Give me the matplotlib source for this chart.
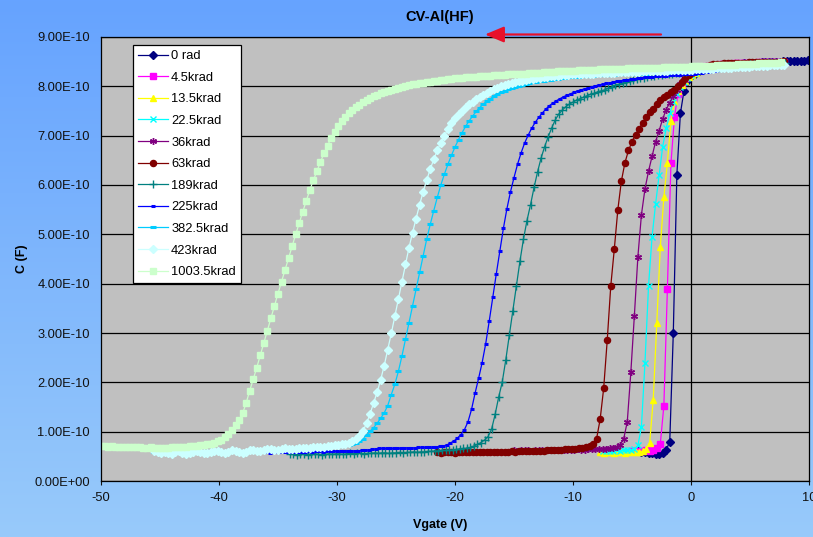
import numpy as np
import matplotlib
matplotlib.use('Agg')
import matplotlib.pyplot as plt
from matplotlib.ticker import FuncFormatter, MultipleLocator
from matplotlib.patches import ArrowStyle

plt.rc('font', family=['Liberation Sans', 'DejaVu Sans'], size=9.3)
plt.rc('axes', unicode_minus=False)

# gate voltage sweep: each run starts at its own voltage, 0.3 V steps
v_step = 0.3
# capacitance readings in units of 1e-10 F
c_scale = 1e-10

labels = ['0 rad', '4.5krad', '13.5krad', '22.5krad', '36krad', '63krad',
          '189krad', '225krad', '382.5krad', '423krad', '1003.5krad']
v_start = [-4.5, -5.0, -7.7, -7.5, -15.0, -21.5, -34.0, -36.0, -45.5, -45.5, -50.0]

c_0 = [0.60, 0.59, 0.58, 0.57, 0.56, 0.55, 0.55, 0.57, 0.63, 0.80,
       3.00, 6.20, 7.45, 7.90, 8.10, 8.20, 8.26, 8.30, 8.33, 8.36,
       8.38, 8.40, 8.41, 8.42, 8.43, 8.44, 8.45, 8.45, 8.46, 8.46,
       8.47, 8.47, 8.48, 8.48, 8.48, 8.49, 8.49, 8.49, 8.50, 8.50,
       8.50, 8.51, 8.51, 8.51, 8.52, 8.52, 8.52, 8.52, 8.53]
c_4 = [0.60, 0.61, 0.60, 0.61, 0.62, 0.61, 0.63, 0.66, 0.76, 1.52,
       3.90, 6.44, 7.38, 7.85, 8.05, 8.16, 8.24, 8.30, 8.34, 8.37,
       8.39, 8.41, 8.42, 8.43, 8.44, 8.45, 8.45, 8.46, 8.46, 8.47,
       8.47, 8.47, 8.48, 8.48, 8.48, 8.48, 8.49, 8.49, 8.49, 8.49, 8.50, 8.50, 8.50, 8.50]
c_13 = [0.58, 0.57, 0.58, 0.58, 0.57, 0.58, 0.58, 0.57, 0.58, 0.58,
        0.58, 0.59, 0.60, 0.65, 0.78, 1.65, 3.20, 4.75, 5.75, 6.45,
        7.30, 7.70, 7.90, 8.02, 8.11, 8.18, 8.23, 8.28, 8.32, 8.35,
        8.38, 8.40, 8.42, 8.43, 8.44, 8.45, 8.46, 8.46, 8.47, 8.47,
        8.47, 8.48, 8.48, 8.48, 8.49, 8.49, 8.49, 8.50, 8.50, 8.50, 8.50, 8.51, 8.51]
c_22 = [0.60, 0.61, 0.60, 0.61, 0.62, 0.61, 0.62, 0.62, 0.63, 0.65,
        0.72, 1.10, 2.40, 3.95, 4.95, 5.62, 6.20, 6.78, 7.15, 7.45,
        7.68, 7.85, 7.98, 8.08, 8.16, 8.22, 8.27, 8.31, 8.34, 8.37,
        8.39, 8.41, 8.42, 8.43, 8.44, 8.45, 8.45, 8.46, 8.46, 8.47,
        8.47, 8.47, 8.48, 8.48, 8.48, 8.48, 8.49, 8.49, 8.49, 8.49, 8.50, 8.50]
c_36 = [0.62, 0.61, 0.62, 0.63, 0.62, 0.61, 0.62, 0.62, 0.63, 0.62,
        0.62, 0.63, 0.62, 0.63, 0.63, 0.62, 0.63, 0.63, 0.64, 0.63,
        0.63, 0.64, 0.64, 0.64, 0.65, 0.65, 0.65, 0.66, 0.67, 0.69,
        0.73, 0.86, 1.20, 2.20, 3.35, 4.55, 5.40, 5.92, 6.28, 6.58,
        6.88, 7.10, 7.34, 7.53, 7.67, 7.80, 7.93, 8.04, 8.13, 8.20,
        8.26, 8.31, 8.35, 8.38, 8.40, 8.42, 8.43, 8.44, 8.45, 8.45,
        8.46, 8.46, 8.47, 8.47, 8.47, 8.48, 8.48, 8.48, 8.48, 8.49,
        8.49, 8.49, 8.49, 8.50, 8.50, 8.50, 8.50]
c_63 = [0.58, 0.57, 0.58, 0.59, 0.58, 0.57, 0.58, 0.58, 0.59, 0.58,
        0.58, 0.59, 0.58, 0.58, 0.59, 0.59, 0.58, 0.59, 0.59, 0.59,
        0.59, 0.60, 0.59, 0.60, 0.60, 0.60, 0.61, 0.60, 0.61, 0.61,
        0.61, 0.62, 0.62, 0.62, 0.63, 0.63, 0.64, 0.64, 0.65, 0.65,
        0.66, 0.67, 0.68, 0.70, 0.75, 0.86, 1.25, 1.88, 2.85, 3.95,
        4.70, 5.50, 6.08, 6.45, 6.70, 6.88, 7.02, 7.14, 7.26, 7.37,
        7.47, 7.55, 7.64, 7.72, 7.78, 7.83, 7.88, 7.93, 8.00, 8.08,
        8.16, 8.23, 8.29, 8.34, 8.37, 8.40, 8.42, 8.44, 8.45, 8.46,
        8.46, 8.47, 8.47, 8.47, 8.48, 8.48, 8.48, 8.48, 8.49, 8.49,
        8.49, 8.49, 8.49, 8.50, 8.50, 8.50, 8.50, 8.50, 8.51]
c_189 = [0.55, 0.54, 0.53, 0.55, 0.54, 0.53, 0.54, 0.55, 0.54, 0.53,
         0.54, 0.55, 0.54, 0.55, 0.55, 0.54, 0.55, 0.56, 0.55, 0.56,
         0.56, 0.55, 0.56, 0.56, 0.57, 0.56, 0.57, 0.57, 0.56, 0.57,
         0.57, 0.58, 0.57, 0.58, 0.58, 0.59, 0.58, 0.59, 0.59, 0.60,
         0.60, 0.61, 0.61, 0.62, 0.62, 0.63, 0.63, 0.64, 0.65, 0.66,
         0.66, 0.68, 0.71, 0.74, 0.78, 0.83, 0.90, 1.05, 1.35, 1.70,
         2.00, 2.45, 2.95, 3.45, 3.95, 4.45, 4.90, 5.28, 5.60, 5.95,
         6.27, 6.55, 6.78, 6.98, 7.16, 7.32, 7.44, 7.52, 7.59, 7.64,
         7.68, 7.72, 7.75, 7.78, 7.81, 7.84, 7.86, 7.89, 7.91, 7.93,
         7.96, 7.99, 8.02, 8.04, 8.06, 8.08, 8.10, 8.12, 8.14, 8.16,
         8.17, 8.19, 8.20, 8.21, 8.22, 8.23, 8.24, 8.25, 8.26, 8.27,
         8.28, 8.29, 8.30, 8.31, 8.32, 8.33, 8.34, 8.35, 8.36, 8.37,
         8.38, 8.39, 8.40, 8.41, 8.41, 8.42, 8.43, 8.43, 8.44, 8.44,
         8.45, 8.45, 8.46, 8.46, 8.46, 8.47, 8.47, 8.47, 8.48, 8.48, 8.48]
c_225 = [0.58, 0.57, 0.58, 0.58, 0.59, 0.58, 0.59, 0.59, 0.58, 0.59,
         0.59, 0.59, 0.60, 0.59, 0.60, 0.60, 0.59, 0.60, 0.60, 0.60,
         0.60, 0.60, 0.61, 0.61, 0.60, 0.61, 0.61, 0.62, 0.62, 0.63,
         0.64, 0.65, 0.66, 0.66, 0.66, 0.66, 0.66, 0.67, 0.66, 0.67,
         0.67, 0.67, 0.67, 0.68, 0.68, 0.68, 0.68, 0.69, 0.69, 0.70,
         0.71, 0.73, 0.77, 0.81, 0.87, 0.94, 1.04, 1.20, 1.45, 1.78,
         2.08, 2.40, 2.78, 3.24, 3.72, 4.20, 4.66, 5.12, 5.52, 5.86,
         6.15, 6.42, 6.65, 6.85, 7.01, 7.15, 7.27, 7.37, 7.46, 7.54,
         7.61, 7.66, 7.71, 7.75, 7.79, 7.82, 7.85, 7.88, 7.91, 7.93,
         7.95, 7.97, 7.99, 8.01, 8.03, 8.04, 8.06, 8.07, 8.08, 8.10,
         8.11, 8.12, 8.13, 8.14, 8.15, 8.16, 8.17, 8.18, 8.18, 8.19,
         8.20, 8.20, 8.21, 8.21, 8.22, 8.22, 8.23, 8.23, 8.24, 8.24,
         8.25, 8.26, 8.27, 8.28, 8.29, 8.30, 8.31, 8.32, 8.33, 8.34,
         8.35, 8.36, 8.37, 8.38, 8.39, 8.39, 8.40, 8.41, 8.41, 8.42,
         8.42, 8.43, 8.43, 8.44, 8.44, 8.45, 8.45]
c_382 = [0.58, 0.60, 0.59, 0.57, 0.58, 0.60, 0.59, 0.58, 0.57, 0.58,
         0.59, 0.60, 0.59, 0.58, 0.59, 0.60, 0.61, 0.60, 0.59, 0.60,
         0.61, 0.60, 0.61, 0.62, 0.61, 0.60, 0.61, 0.62, 0.62, 0.61,
         0.62, 0.63, 0.62, 0.63, 0.64, 0.63, 0.64, 0.64, 0.65, 0.65,
         0.65, 0.66, 0.66, 0.66, 0.67, 0.67, 0.67, 0.68, 0.68, 0.69,
         0.69, 0.70, 0.70, 0.71, 0.72, 0.73, 0.75, 0.78, 0.81, 0.86,
         0.93, 1.01, 1.08, 1.17, 1.27, 1.38, 1.53, 1.75, 1.96, 2.22,
         2.53, 2.87, 3.20, 3.55, 3.90, 4.23, 4.57, 4.90, 5.20, 5.48,
         5.75, 6.00, 6.22, 6.42, 6.60, 6.77, 6.92, 7.06, 7.19, 7.30,
         7.40, 7.49, 7.57, 7.64, 7.70, 7.75, 7.80, 7.84, 7.88, 7.91,
         7.94, 7.96, 7.99, 8.01, 8.03, 8.05, 8.06, 8.08, 8.09, 8.10,
         8.11, 8.12, 8.13, 8.14, 8.15, 8.16, 8.17, 8.18, 8.18, 8.19,
         8.19, 8.20, 8.20, 8.21, 8.21, 8.22, 8.22, 8.22, 8.23, 8.23,
         8.23, 8.24, 8.24, 8.24, 8.25, 8.25, 8.25, 8.26, 8.26, 8.26,
         8.27, 8.27, 8.27, 8.28, 8.28, 8.28, 8.29, 8.29, 8.29, 8.30,
         8.30, 8.30, 8.31, 8.31, 8.32, 8.32, 8.32, 8.33, 8.33, 8.34,
         8.34, 8.35, 8.35, 8.36, 8.36, 8.37, 8.37, 8.38, 8.38, 8.39,
         8.39, 8.40, 8.40, 8.41, 8.41, 8.42, 8.42, 8.43, 8.43]
c_423 = [0.60, 0.58, 0.57, 0.59, 0.56, 0.55, 0.58, 0.60, 0.57, 0.55,
         0.56, 0.58, 0.60, 0.59, 0.57, 0.56, 0.58, 0.61, 0.60, 0.58,
         0.57, 0.59, 0.62, 0.60, 0.58, 0.56, 0.59, 0.62, 0.63, 0.61,
         0.60, 0.62, 0.64, 0.65, 0.63, 0.62, 0.64, 0.66, 0.65, 0.64,
         0.65, 0.66, 0.66, 0.67, 0.67, 0.68, 0.68, 0.69, 0.69, 0.70,
         0.71, 0.72, 0.73, 0.74, 0.76, 0.78, 0.81, 0.85, 0.91, 1.01,
         1.17, 1.36, 1.58, 1.80, 2.05, 2.34, 2.66, 2.99, 3.34, 3.69,
         4.04, 4.40, 4.73, 5.03, 5.32, 5.60, 5.86, 6.10, 6.32, 6.52,
         6.70, 6.86, 7.00, 7.13, 7.25, 7.35, 7.44, 7.51, 7.58, 7.64,
         7.69, 7.74, 7.79, 7.83, 7.87, 7.91, 7.94, 7.97, 8.00, 8.02,
         8.04, 8.06, 8.08, 8.10, 8.11, 8.13, 8.14, 8.15, 8.16, 8.17,
         8.18, 8.19, 8.20, 8.21, 8.21, 8.22, 8.23, 8.23, 8.24, 8.24,
         8.25, 8.25, 8.26, 8.26, 8.26, 8.27, 8.27, 8.27, 8.28, 8.28,
         8.28, 8.29, 8.29, 8.29, 8.30, 8.30, 8.30, 8.30, 8.31, 8.31,
         8.31, 8.31, 8.32, 8.32, 8.32, 8.32, 8.33, 8.33, 8.33, 8.33,
         8.34, 8.34, 8.34, 8.35, 8.35, 8.35, 8.36, 8.36, 8.36, 8.37,
         8.37, 8.37, 8.38, 8.38, 8.39, 8.39, 8.39, 8.40, 8.40, 8.41,
         8.41, 8.41, 8.42, 8.42, 8.43, 8.43, 8.43, 8.44, 8.44]
c_1003 = [0.70, 0.70, 0.69, 0.70, 0.69, 0.69, 0.68, 0.68, 0.69, 0.68,
          0.68, 0.68, 0.67, 0.67, 0.68, 0.67, 0.67, 0.67, 0.67, 0.67,
          0.68, 0.68, 0.68, 0.69, 0.69, 0.70, 0.70, 0.71, 0.72, 0.73,
          0.75, 0.76, 0.78, 0.81, 0.84, 0.89, 0.96, 1.04, 1.13, 1.24,
          1.37, 1.58, 1.83, 2.06, 2.30, 2.55, 2.80, 3.05, 3.30, 3.55,
          3.80, 4.04, 4.28, 4.52, 4.76, 5.00, 5.23, 5.46, 5.68, 5.90,
          6.10, 6.28, 6.47, 6.64, 6.80, 6.95, 7.08, 7.19, 7.29, 7.38,
          7.46, 7.52, 7.58, 7.63, 7.68, 7.72, 7.76, 7.80, 7.83, 7.86,
          7.89, 7.91, 7.93, 7.95, 7.97, 7.99, 8.01, 8.02, 8.04, 8.05,
          8.06, 8.07, 8.08, 8.09, 8.10, 8.11, 8.12, 8.13, 8.14, 8.15,
          8.16, 8.16, 8.17, 8.18, 8.18, 8.19, 8.19, 8.20, 8.20, 8.21,
          8.21, 8.22, 8.22, 8.23, 8.23, 8.24, 8.24, 8.25, 8.25, 8.26,
          8.26, 8.27, 8.27, 8.28, 8.28, 8.29, 8.29, 8.30, 8.30, 8.31,
          8.31, 8.31, 8.32, 8.32, 8.32, 8.33, 8.33, 8.33, 8.34, 8.34,
          8.34, 8.35, 8.35, 8.35, 8.35, 8.36, 8.36, 8.36, 8.36, 8.37,
          8.37, 8.37, 8.37, 8.37, 8.38, 8.38, 8.38, 8.38, 8.38, 8.39,
          8.39, 8.39, 8.39, 8.40, 8.40, 8.40, 8.40, 8.41, 8.41, 8.41,
          8.41, 8.42, 8.42, 8.42, 8.43, 8.43, 8.43, 8.44, 8.44, 8.44,
          8.45, 8.45, 8.45, 8.46, 8.46, 8.46, 8.47, 8.47, 8.47, 8.48,
          8.48, 8.48, 8.49]

series = [c_0, c_4, c_13, c_22, c_36, c_63, c_189, c_225, c_382, c_423, c_1003]

# excel-ish series styles
styles = [
    dict(color='#000080', marker='D', ms=3.6),
    dict(color='#FF00FF', marker='s', ms=4.0),
    dict(color='#FFFF00', marker='^', ms=4.6),
    dict(color='#00FFFF', marker='x', ms=4.4, mew=1.0),
    dict(color='#800080', marker=(6, 2, 0), ms=5.0, mew=1.0),
    dict(color='#800000', marker='o', ms=4.4),
    dict(color='#008080', marker='+', ms=5.2, mew=1.0),
    dict(color='#0000FF', marker='_', ms=3.2, mew=2.2),
    dict(color='#00CCFF', marker='_', ms=5.0, mew=2.2),
    dict(color='#CCFFFF', marker='D', ms=3.8),
    dict(color='#CCFFCC', marker='s', ms=4.6),
]

W, H = 813, 537
fig = plt.figure(figsize=(W / 100, H / 100), dpi=100)

# blue gradient background
bg = fig.add_axes([0, 0, 1, 1], zorder=-10)
top = np.array([102, 163, 255]) / 255
bot = np.array([152, 202, 250]) / 255
t = np.linspace(0, 1, 256)[:, None, None]
grad = top * (1 - t) + bot * t
bg.imshow(grad, aspect='auto', extent=[0, 1, 0, 1])
bg.axis('off')

l, r, tp, b = 101, 809, 37, 481
ax = fig.add_axes([l / W, 1 - b / H, (r - l) / W, (b - tp) / H])
ax.set_facecolor('#C0C0C0')

for lab, v0, c, st in zip(labels, v_start, series, styles):
    c = np.array(c)
    v = v0 + v_step * np.arange(len(c))
    ax.plot(v, c * c_scale, lw=0.9, mec=st['color'], mfc=st['color'],
            label=lab, **st)

ax.set_xlim(-50, 10)
ax.set_ylim(0, 9e-10)
ax.xaxis.set_major_locator(MultipleLocator(10))
ax.yaxis.set_major_locator(MultipleLocator(1e-10))
ax.yaxis.set_major_formatter(FuncFormatter(lambda y, p: '%.2E' % y))
ax.yaxis.get_offset_text().set_visible(False)
ax.grid(axis='y', color='black', lw=0.9)
ax.set_axisbelow(True)
ax.axvline(0, color='black', lw=0.9, zorder=1)
for s in ax.spines.values():
    s.set_color('black')
    s.set_linewidth(0.9)
ax.tick_params(axis='x', direction='out', length=3, pad=5, colors='#111111')
ax.tick_params(axis='y', length=0, pad=8, colors='#111111')

ax.set_xlabel('Vgate (V)', fontweight='bold', fontsize=9)
ax.xaxis.set_label_coords((440 - l) / (r - l), (b - 519) / (b - tp))
ax.set_ylabel('C (F)', fontweight='bold', fontsize=9)
ax.yaxis.set_label_coords((28 - l) / (r - l), 0.5)

fig.text(440 / W, 1 - 17 / H, 'CV-Al(HF)', ha='center', va='center',
         fontweight='bold', fontsize=10.5)

leg = ax.legend(loc='upper left', bbox_to_anchor=((133 - l) / (r - l), (b - 45) / (b - tp)),
                borderaxespad=0, fancybox=False, framealpha=1, edgecolor='black',
                handlelength=2.3, handletextpad=0.25, labelspacing=0.74,
                borderpad=0.4, fontsize=9.3)
leg.get_frame().set_linewidth(0.9)

# red sweep-direction arrow above the plot
ax.annotate('', xy=(485 / W, 1 - 34.5 / H), xytext=(661 / W, 1 - 34.5 / H),
            xycoords='figure fraction', textcoords='figure fraction',
            arrowprops=dict(arrowstyle=ArrowStyle('-|>', head_length=1.0, head_width=0.42),
                            mutation_scale=11.5, color='#E8102A', lw=1.6,
                            shrinkA=0, shrinkB=0))

plt.savefig('out.png', dpi=100)
